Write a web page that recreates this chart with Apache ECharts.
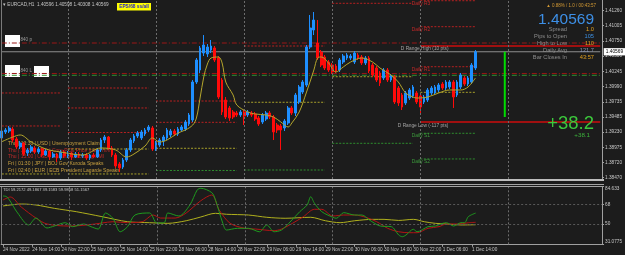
<!DOCTYPE html>
<html><head><meta charset="utf-8">
<script src="https://cdn.jsdelivr.net/npm/echarts@6/dist/echarts.min.js"></script>
<style>html,body{margin:0;padding:0;background:#1c1c1c;overflow:hidden}#c{width:625px;height:255px}</style>
</head><body><div id="c"></div>
<script>
// ---------- DATA ----------
const openP = [1.39132,1.39232,1.39248,1.39282,1.39115,1.38982,1.39048,1.38882,1.38915,1.38965,1.38898,1.38948,1.38848,1.38915,1.38815,1.38865,1.38798,1.38898,1.38832,1.38882,1.38815,1.38865,1.38832,1.38848,1.38798,1.38848,1.38815,1.38932,1.39098,1.39148,1.38965,1.38848,1.38698,1.38648,1.38765,1.38932,1.39082,1.39165,1.39132,1.39198,1.39265,1.39298,1.38948,1.39015,1.39082,1.39132,1.39182,1.39248,1.39198,1.39265,1.39282,1.39365,1.39432,1.40065,1.40265,1.40548,1.40532,1.40598,1.40632,1.40465,1.40098,1.39765,1.39632,1.39565,1.39548,1.39515,1.39565,1.39515,1.39548,1.39532,1.39465,1.39398,1.39448,1.39548,1.39482,1.39348,1.39332,1.39298,1.39382,1.39632,1.39548,1.39732,1.39898,1.40015,1.40648,1.40932,1.40715,1.40565,1.40482,1.40398,1.40348,1.40332,1.40265,1.40398,1.40465,1.40465,1.40398,1.40515,1.40482,1.40382,1.40465,1.40348,1.40298,1.40215,1.40132,1.40265,1.40098,1.40148,1.39965,1.39848,1.39715,1.39798,1.39832,1.39882,1.39832,1.39732,1.39765,1.39882,1.39882,1.39932,1.40032,1.39965,1.39982,1.40065,1.39848,1.39982,1.40132,1.40032,1.40065,1.40298];
const closeP = [1.39248,1.39265,1.39298,1.39098,1.38982,1.39048,1.38865,1.38932,1.38982,1.38898,1.38948,1.38848,1.38915,1.38815,1.38865,1.38798,1.38898,1.38832,1.38882,1.38815,1.38865,1.38832,1.38848,1.38798,1.38848,1.38815,1.38932,1.39098,1.39148,1.38965,1.38848,1.38665,1.38632,1.38765,1.38932,1.39098,1.39165,1.39215,1.39232,1.39265,1.39315,1.38948,1.39048,1.39098,1.39148,1.39265,1.39248,1.39198,1.39282,1.39315,1.39398,1.39515,1.40065,1.40432,1.40632,1.40682,1.40648,1.40665,1.40432,1.39815,1.39565,1.39482,1.39465,1.39482,1.39515,1.39565,1.39498,1.39565,1.39515,1.39448,1.39365,1.39515,1.39548,1.39482,1.39232,1.39265,1.39265,1.39415,1.39632,1.39548,1.39848,1.39982,1.40065,1.40648,1.40965,1.41098,1.40465,1.40348,1.40298,1.40265,1.40232,1.40248,1.40432,1.40498,1.40515,1.40498,1.40548,1.40465,1.40382,1.40465,1.40248,1.40182,1.40098,1.40048,1.40265,1.40098,1.40165,1.39732,1.39715,1.39648,1.39882,1.39932,1.39982,1.39732,1.39648,1.39815,1.39932,1.39965,1.39982,1.40015,1.39965,1.40065,1.40065,1.39815,1.40065,1.40182,1.40032,1.40132,1.40348,1.40569];
const highP = [1.39282,1.39298,1.39332,1.39315,1.39148,1.39082,1.39065,1.38965,1.39015,1.38998,1.38982,1.38965,1.38948,1.38932,1.38898,1.38882,1.38932,1.38932,1.38915,1.38898,1.38898,1.38898,1.38882,1.38882,1.38865,1.38882,1.38965,1.39132,1.39182,1.39165,1.38998,1.38882,1.38732,1.38798,1.38965,1.39132,1.39198,1.39248,1.39265,1.39298,1.39348,1.39332,1.39082,1.39132,1.39182,1.39298,1.39282,1.39282,1.39315,1.39348,1.39432,1.39548,1.40098,1.40465,1.40665,1.40848,1.40698,1.40765,1.40665,1.40498,1.40132,1.39815,1.39665,1.39598,1.39582,1.39598,1.39598,1.39598,1.39582,1.39565,1.39498,1.39548,1.39582,1.39582,1.39515,1.39382,1.39365,1.39448,1.39665,1.39665,1.39882,1.40015,1.40098,1.40682,1.41182,1.41232,1.41098,1.40598,1.40515,1.40432,1.40382,1.40365,1.40465,1.40532,1.40548,1.40532,1.40582,1.40548,1.40515,1.40498,1.40498,1.40382,1.40332,1.40248,1.40298,1.40298,1.40198,1.40182,1.39998,1.39882,1.39915,1.39965,1.40015,1.39915,1.39865,1.39848,1.39965,1.39998,1.40015,1.40048,1.40065,1.40098,1.40098,1.40098,1.40098,1.40215,1.40165,1.40165,1.40382,1.40598];
const lowP = [1.39098,1.39198,1.39215,1.39065,1.38948,1.38948,1.38832,1.38832,1.38882,1.38865,1.38865,1.38815,1.38832,1.38765,1.38798,1.38732,1.38765,1.38798,1.38798,1.38765,1.38798,1.38798,1.38798,1.38765,1.38765,1.38798,1.38798,1.38898,1.39048,1.38932,1.38815,1.38632,1.38565,1.38615,1.38732,1.38898,1.39048,1.39132,1.39098,1.39165,1.39232,1.38915,1.38915,1.38982,1.38998,1.39098,1.39148,1.39165,1.39165,1.39232,1.39248,1.39332,1.39398,1.40032,1.40215,1.40498,1.40482,1.40548,1.40398,1.39782,1.39515,1.39448,1.39415,1.39448,1.39482,1.39482,1.39348,1.39482,1.39482,1.39415,1.39332,1.39365,1.39415,1.39448,1.39098,1.39215,1.38932,1.39248,1.39348,1.39515,1.39498,1.39698,1.39865,1.39982,1.40615,1.40848,1.40432,1.40315,1.40265,1.40232,1.40198,1.40215,1.40232,1.40365,1.40432,1.40432,1.40365,1.40432,1.40348,1.40348,1.40215,1.40148,1.40065,1.39998,1.40098,1.40065,1.40065,1.39698,1.39665,1.39598,1.39682,1.39765,1.39798,1.39698,1.39548,1.39698,1.39732,1.39848,1.39848,1.39898,1.39932,1.39932,1.39948,1.39632,1.39815,1.39948,1.39998,1.39998,1.40032,1.40265];

// moving average read at [bar index, price]
const maPoints = [[0,1.39070],[3,1.39148],[5,1.39182],[8,1.39065],[12,1.38948],[16,1.38898],[22,1.38848],[27,1.38965],[31,1.38932],[34,1.38815],[36,1.38865],[39,1.38998],[41,1.39132],[43,1.39065],[45,1.39098],[48,1.39215],[50,1.39265],[52,1.39348],[53,1.39465],[54,1.39798],[55,1.40148],[56,1.40365],[57,1.40465],[59,1.40482],[60,1.40382],[61,1.40065],[63,1.39848],[64,1.39682],[67,1.39565],[69,1.39532],[72,1.39515],[74,1.39482],[76,1.39398],[78,1.39315],[79,1.39382],[81,1.39565],[83,1.39898],[85,1.40265],[86,1.40465],[87,1.40482],[89,1.40382],[91,1.40232],[93,1.40315],[95,1.40398],[98,1.40465],[101,1.40398],[103,1.40298],[106,1.40182],[108,1.40065],[110,1.39882],[112,1.39815],[113,1.39798],[116,1.39815],[119,1.39882],[122,1.39932],[125,1.39932],[127,1.39982],[129,1.40132]];

// TDI lines read at [bar index, value]
const tdiGreen = [[0,75.8],[1,75.2],[4,60.1],[7,49.0],[9,55.4],[12,46.2],[14,48.0],[17,51.1],[19,47.4],[22,49.9],[24,47.4],[26,45.2],[28,60.1],[30,55.2],[32,42.7],[34,47.4],[36,58.2],[40,60.1],[42,50.8],[44,51.1],[45,60.1],[48,57.3],[51,67.5],[53,81.4],[54,83.0],[57,78.9],[58,72.1],[60,50.5],[61,44.3],[64,45.9],[67,45.9],[70,42.7],[72,49.0],[74,42.7],[76,44.3],[78,50.5],[81,61.3],[83,67.5],[84,75.2],[85,69.1],[87,61.3],[90,56.1],[91,55.2],[93,60.4],[96,58.2],[98,58.2],[100,53.6],[103,48.0],[106,47.4],[108,39.7],[109,38.1],[110,39.7],[112,45.0],[113,42.7],[116,47.4],[118,48.0],[120,50.5],[121,51.1],[123,48.0],[125,51.1],[126,51.1],[127,56.7],[129,60.0]];
const tdiRed = [[0,72.1],[2,74.9],[5,65.6],[9,55.4],[12,49.9],[18,48.0],[23,49.0],[27,50.8],[30,52.0],[34,51.1],[38,52.0],[41,58.2],[43,55.4],[47,55.4],[50,60.1],[54,71.5],[57,76.8],[59,62.9],[62,50.5],[66,45.9],[69,45.2],[74,43.7],[76,45.2],[79,50.5],[82,56.7],[85,63.5],[87,63.5],[90,57.3],[93,58.2],[96,58.2],[99,56.1],[102,52.0],[105,45.9],[108,42.7],[111,41.8],[113,41.8],[116,45.9],[119,47.4],[121,49.9],[124,49.9],[127,51.0],[129,51.5]];
const tdiYellow = [[0,66.6],[5,68.4],[9,67.5],[14,64.4],[20,61.3],[27,56.7],[34,52.0],[40,51.1],[45,50.5],[50,52.9],[54,56.4],[58,59.8],[61,58.9],[67,58.2],[72,56.1],[77,55.2],[84,56.1],[88,52.9],[92,51.1],[96,52.9],[101,54.2],[104,54.2],[108,53.2],[112,54.2],[115,52.0],[118,50.5],[121,49.9],[125,49.0],[129,49.2]];

const priceTicks = [1.41260,1.41005,1.40750,1.40500,1.40245,1.39990,1.39735,1.39485,1.39230,1.38975,1.38720,1.38470];
const tdiTicks = [31.0775,50,68,84.633];
const timeLabels = ['24 Nov 2022','24 Nov 14:00','24 Nov 22:00','25 Nov 06:00','25 Nov 14:00','25 Nov 22:00','28 Nov 06:00','28 Nov 14:00','28 Nov 22:00','29 Nov 06:00','29 Nov 14:00','29 Nov 22:00','30 Nov 06:00','30 Nov 14:00','30 Nov 22:00','1 Dec 06:00','1 Dec 14:00'];
const labelStep = 8;
const daySeparators = [18,42,66,90,114,138];
const dayBars = [[0,16],[18,40],[42,64],[66,88],[90,112],[114,129]];
const pivotLevels = [
 [0,1.39882,'r'],[0,1.39332,'r'],[0,1.38532,'p'],
 [1,1.39965,'r'],[1,1.39632,'r'],[1,1.39223,'r'],[1,1.38948,'p'],[1,1.38532,'p'],
 [2,1.39748,'r'],[2,1.39393,'r'],[2,1.38960,'p'],[2,1.38590,'s'],
 [3,1.40665,'r'],[3,1.39727,'p'],[3,1.38598,'s'],
 [4,1.41377,'r'],[4,1.40153,'p'],[4,1.39043,'s'],
 [5,1.41420,'r'],[5,1.40987,'r'],[5,1.40320,'r'],[5,1.39893,'p'],[5,1.39210,'s'],[5,1.38782,'s']
];
const pivotLabels = [['Daily R3',1.41420,'r'],['Daily R2',1.40987,'r'],['Daily R1',1.40320,'r'],['Daily S1',1.39210,'s'],['Daily S2',1.38782,'s']];
const rangeHigh = 1.40665, rangeLow = 1.39398, rangeStart = 114;
const fullLevels = [[1.40715,'dr'],[1.40207,'dr'],[1.40177,'dg']];
const bidPrice = 1.40569;
const rangeBar = {bar:137, top:1.40569, bottom:1.39482};
const N_CATS = 164;
const events = [
 ['Thu | 13:30 | USD | Unemployment Claims','g'],
 ['Thu | 13:30 | USD | Core PCE Price Index m/m','r'],
 ['Thu | 15:00 | USD | ISM Manufacturing PMI','r'],
 ['Fri | 01:30 | JPY | BOJ Gov Kuroda Speaks','g'],
 ['Fri | 02:40 | EUR | ECB President Lagarde Speaks','g']
];
const infoRows = [['Spread','1.0','#e0a020'],['Pips to Open','105','#3d8fe0'],['High to Low','110','#e0a020'],['Daily Avg','121.7','#8a94b4'],['Bar Closes In','43:57','#e0a020']];

// ---------- CHART ----------
const FF = '"Liberation Sans", Arial, sans-serif';
const cats = Array.from({length:N_CATS}, (_, i) => String(i));
const colK = {r:'#b82020', p:'#a8a02a', s:'#2e8e2e', dr:'#9a1616', dg:'#2f922f'};
const chart = echarts.init(document.getElementById('c'));

const gridL = -1.4, gridW = 605.5;
const series = [];

// vertical day separators (main)
series.push({type:'line', xAxisIndex:0, yAxisIndex:0, z:1, silent:true, symbol:'none', data:[], animation:false,
  markLine:{silent:true, symbol:'none', animation:false, label:{show:false},
    data: daySeparators.map(x => ({xAxis: x, lineStyle:{color:'#6c6c6c', type:[2,2], width:1}}))}});
// pivot segments
pivotLevels.forEach(pv => {
  const d = dayBars[pv[0]];
  series.push({type:'line', xAxisIndex:0, yAxisIndex:0, z:2, silent:true, symbol:'none',
    data:[[d[0], pv[1]], [d[1], pv[1]]],
    lineStyle:{color:colK[pv[2]], width:1, type:[2,1.5]}, animation:false});
});
// full-width levels
fullLevels.forEach(f => series.push({type:'line', xAxisIndex:0, yAxisIndex:0, z:2, silent:true, symbol:'none',
  data:[[0, f[0]], [N_CATS-1, f[0]]], lineStyle:{color:colK[f[1]], width:1, type:[5,2,1,2]}, animation:false}));
// bid line with price box
series.push({type:'line', xAxisIndex:0, yAxisIndex:0, z:2, silent:true, symbol:'none',
  data:[[0, bidPrice], [N_CATS-1, bidPrice]], lineStyle:{color:'#8e8e8e', width:1}, animation:false,
  endLabel:{show:true, formatter: bidPrice.toFixed(5), color:'#000', backgroundColor:'#ffffff',
    fontSize:4.8, fontFamily:FF, padding:[1.3,2,1,2], distance:3.5}});
// daily range thick lines
[rangeHigh, rangeLow].forEach(p => series.push({type:'line', xAxisIndex:0, yAxisIndex:0, z:2, silent:true, symbol:'none',
  data:[[rangeStart, p],[N_CATS-1, p]], lineStyle:{color:'#a01010', width:2}, animation:false}));
// range bar
series.push({type:'line', xAxisIndex:0, yAxisIndex:0, z:3, silent:true, symbol:'none',
  data:[[rangeBar.bar, rangeBar.top],[rangeBar.bar, rangeBar.bottom]], lineStyle:{color:'#00dd00', width:2}, animation:false});
// candles
series.push({type:'candlestick', xAxisIndex:0, yAxisIndex:0, z:3, barWidth:2.3, animation:false,
  data: openP.map((o,i) => [o, closeP[i], lowP[i], highP[i]]),
  itemStyle:{color:'#1e8fff', color0:'#ff0a0a', borderColor:'#1e8fff', borderColor0:'#ff0a0a', borderWidth:1}});
// MA
series.push({type:'line', xAxisIndex:0, yAxisIndex:0, z:4, symbol:'none', smooth:0.35, data:maPoints,
  lineStyle:{color:'#b4a62c', width:1}, animation:false});
// TDI grid helper
series.push({type:'line', xAxisIndex:1, yAxisIndex:1, z:1, symbol:'none', data:tdiYellow, lineStyle:{opacity:0}, silent:true, animation:false,
  markLine:{silent:true, symbol:'none', animation:false, precision:4, label:{show:false},
    data: daySeparators.map(x => ({xAxis:x, lineStyle:{color:'#6c6c6c', type:[2,2], width:1}}))
      .concat([68,50].map(v => ({yAxis:v, lineStyle:{color:'#585858', type:[2,2], width:1}})))}});
[[tdiYellow,'#b0b01c'],[tdiRed,'#b41414'],[tdiGreen,'#1e9a1e']].forEach(t => series.push({type:'line', xAxisIndex:1, yAxisIndex:1, z:3,
  symbol:'none', smooth:0.3, data:t[0], lineStyle:{color:t[1], width:1}, animation:false}));

const labInt = (i) => i % labelStep === 0 && i / labelStep < timeLabels.length;
const option = {
  backgroundColor:'#1c1c1c',
  animation:false,
  grid:[{left:gridL, top:0, width:gridW, height:179}, {left:gridL, top:186.5, width:gridW, height:57.8}],
  xAxis:[
    {type:'category', gridIndex:0, data:cats, boundaryGap:true, show:false},
    {type:'category', gridIndex:1, data:cats, boundaryGap:true,
      axisLine:{show:true, lineStyle:{color:'#a0a0a0'}},
      axisTick:{show:true, interval:labInt, alignWithLabel:true, length:2.5, lineStyle:{color:'#a0a0a0'}},
      axisLabel:{interval:labInt, formatter:(v, i) => timeLabels[i / labelStep] || '', color:'#c4c4c4', fontSize:4.7, fontFamily:FF, align:'left', margin:3.2},
      splitLine:{show:false}}
  ],
  yAxis:[
    {type:'value', gridIndex:0, position:'right', min:1.38448, max:1.41432, scale:true,
      axisLine:{show:true, lineStyle:{color:'#a0a0a0'}},
      axisTick:{show:true, customValues:priceTicks, length:2, lineStyle:{color:'#a0a0a0'}},
      axisLabel:{customValues:priceTicks, formatter:v => v.toFixed(5), color:'#c8c8c8', fontSize:4.7, fontFamily:FF, margin:3},
      splitLine:{show:false}},
    {type:'value', gridIndex:1, position:'right', min:31.0775, max:84.633,
      axisLine:{show:true, lineStyle:{color:'#a0a0a0'}},
      axisTick:{show:true, customValues:tdiTicks, length:2, lineStyle:{color:'#a0a0a0'}},
      axisLabel:{customValues:tdiTicks, formatter:v => String(v), color:'#c8c8c8', fontSize:4.7, fontFamily:FF, margin:3,
        verticalAlignMaxLabel:'top', verticalAlignMinLabel:'bottom'},
      splitLine:{show:false}}
  ],
  series
};
chart.setOption(option);

// ---------- annotations ----------
function txt(text, x, y, fill, size, align, z, bold) {
  return {type:'text', z: z == null ? 100 : z, silent:true,
    style:{text, x, y, fill, fontSize:size, fontFamily:FF, fontWeight: bold ? 'bold' : 'normal', align: align || 'left', verticalAlign:'middle'}};
}
const g = [];
g.push({type:'line', z:5, silent:true, shape:{x1:0, y1:180, x2:604, y2:180}, style:{stroke:'#bcbcbc', lineWidth:2}});
g.push({type:'line', z:5, silent:true, shape:{x1:0, y1:184.5, x2:604, y2:184.5}, style:{stroke:'#a4a4a4', lineWidth:1}});
g.push({type:'line', z:5, silent:true, shape:{x1:0, y1:186.5, x2:604, y2:186.5}, style:{stroke:'#a4a4a4', lineWidth:1}});
g.push({type:'line', z:5, silent:true, shape:{x1:1.5, y1:0, x2:1.5, y2:179}, style:{stroke:'#7a7a7a', lineWidth:1}});
g.push({type:'line', z:5, silent:true, shape:{x1:1.5, y1:187, x2:1.5, y2:244}, style:{stroke:'#7a7a7a', lineWidth:1}});
g.push(txt('\u25BE EURCAD,H1  1.40596 1.40598 1.40308 1.40569', 3, 5.2, '#c4c4c4', 4.7));
g.push({type:'rect', z:90, silent:true, shape:{x:117, y:3, width:34, height:7.6}, style:{fill:'#ffff00'}});
g.push(txt('EPS/68 ss/all', 134, 6.9, '#2424c8', 4.8, 'center', 100, true));
[[5,35,15,12],[5,65,15,12],[34,66,15,11]].forEach(b => g.push({type:'rect', z:1, silent:true, shape:{x:b[0], y:b[1], width:b[2], height:b[3]}, style:{fill:'#ffffff'}}));
g.push(txt('840 p', 20.5, 40, '#9a9a9a', 4.6, 'left', 1));
g.push(txt('840 L', 20.5, 71, '#9a9a9a', 4.6, 'left', 1));
events.forEach((e, k) => g.push(txt(e[0], 8, 143.3 + k * 6.9, e[1] === 'g' ? '#c8a040' : '#c02a2a', 5, 'left', 1)));
g.push(txt('\u25B2 0.88% / 1.0 / 00:43:57', 596, 5.5, '#d49a34', 4.5, 'right'));
g.push(txt('1.40569', 594, 19.5, '#3d8fe6', 15.5, 'right'));
infoRows.forEach((r, k) => {
  const y = 29.5 + k * 7.1;
  g.push(txt(r[0], 567, y, '#8c8c8c', 5.7, 'right'));
  g.push(txt(r[1], 594, y, r[2], 5.7, 'right'));
});
g.push(txt('+38.2', 594, 123.8, '#3cc83c', 18.5, 'right'));
g.push(txt('+38.1', 590, 135.5, '#3cb43c', 6.2, 'right'));
const px = (i, p) => chart.convertToPixel({gridIndex:0}, [i, p]);
pivotLabels.forEach(l => { const pt = px(rangeStart, l[1]); g.push(txt(l[0], pt[0] - 8.5, pt[1] + 2.8, l[2] === 'r' ? '#c42828' : '#3c9c3c', 4.9)); });
let pt = px(rangeStart, rangeHigh); g.push(txt('D Range High (10 pts)', pt[0] - 19.5, pt[1] + 2.7, '#a4a4a4', 4.8));
pt = px(rangeStart, rangeLow); g.push(txt('D Range Low (-117 pts)', pt[0] - 22.5, pt[1] + 3.2, '#a4a4a4', 4.8));
g.push(txt('TDI 59.2172 49.1867 39.1583 59.9858 51.1567', 3, 189.5, '#c8c8c8', 4.1));
chart.setOption({graphic: g});
</script>
</body></html>
